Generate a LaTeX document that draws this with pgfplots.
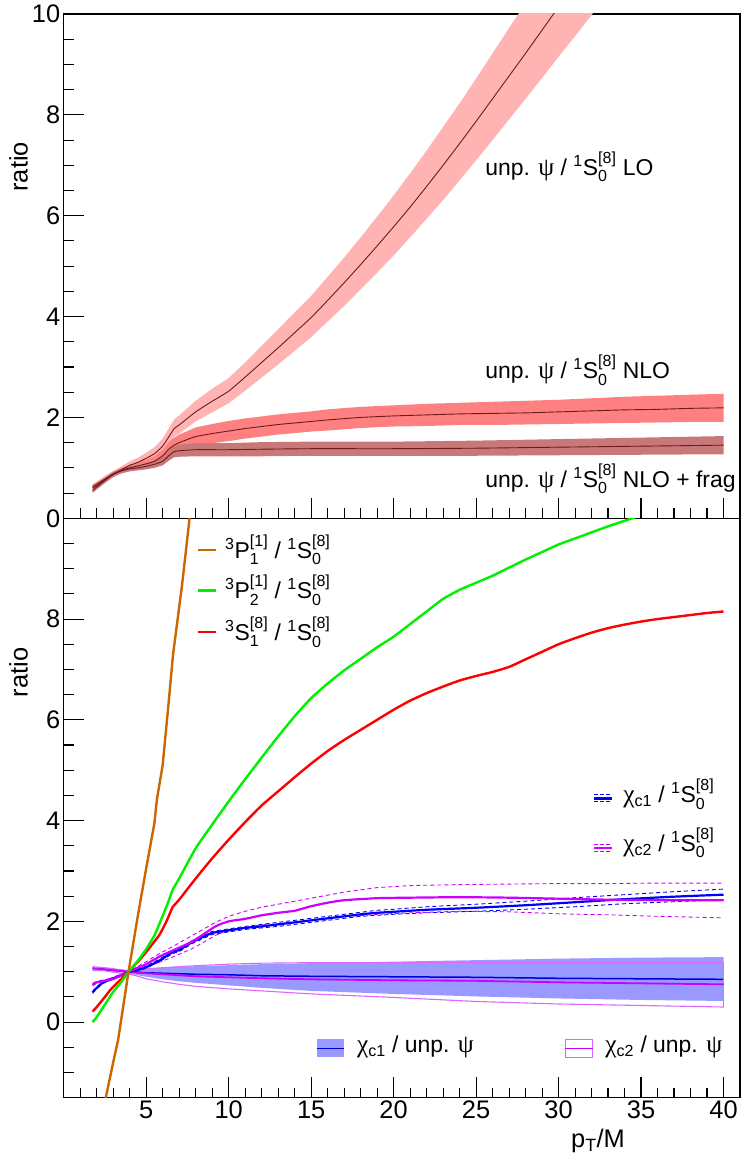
\documentclass[border=0pt]{standalone}
\usepackage{fontspec}
\setmainfont{Liberation Sans}
\newfontfamily\grk{Liberation Serif}
\usepackage{amsmath}
\usepackage{pgfplots}
\usepackage{pgfplotstable}
\pgfplotsset{compat=1.18}
\usepgfplotslibrary{fillbetween}

\definecolor{lobd}{HTML}{FFB3B3}
\definecolor{nlobd}{HTML}{FF8080}
\definecolor{fragbd}{HTML}{C87878}
\definecolor{cline}{HTML}{6E1A1A}
\definecolor{brn}{HTML}{CC6600}
\definecolor{grn}{HTML}{00F000}
\definecolor{rd}{HTML}{FF0000}
\definecolor{blu}{HTML}{0000FF}
\definecolor{mag}{HTML}{CC00FF}
\definecolor{magl}{HTML}{DD66FF}
\definecolor{blubd}{HTML}{9999FF}

\newcommand{\Soct}{$^{\text{1}}$S$^{\text{[8]}}_{\text{0}}$}
\newcommand{\psiu}{{\grk\fontsize{25.5}{27}\selectfont ψ}}
\newcommand{\chic}[1]{{\grk\fontsize{25.5}{27}\selectfont χ}$_{\text{c#1}}$}

% top panel: x, central, lower, upper
\pgfplotstableread{
x c lo hi
1.75 0.63 0.58 0.68
2 0.68 0.63 0.73
2.5 0.78 0.73 0.84
3 0.88 0.82 0.94
3.5 0.96 0.90 1.03
4 1.05 0.98 1.13
4.5 1.11 1.03 1.20
5 1.19 1.10 1.30
5.5 1.28 1.17 1.41
6 1.43 1.31 1.58
6.4 1.63 1.48 1.80
6.7 1.78 1.62 1.96
7 1.85 1.68 2.04
8 2.11 1.92 2.33
9 2.32 2.10 2.57
10 2.52 2.28 2.78
11 2.80 2.53 3.09
12 3.09 2.79 3.42
13 3.38 3.05 3.75
14 3.68 3.32 4.08
15 3.98 3.59 4.41
16 4.32 3.90 4.79
17 4.67 4.21 5.17
18 5.03 4.54 5.57
19 5.40 4.87 5.98
20 5.78 5.21 6.40
21 6.17 5.57 6.84
22 6.58 5.94 7.29
23 7.00 6.31 7.76
24 7.43 6.70 8.23
25 7.87 7.10 8.72
26 8.32 7.50 9.22
27 8.77 7.91 9.72
28 9.22 8.32 10.22
29 9.68 8.73 10.73
30 10.14 9.15 11.24
31 10.60 9.56 11.74
32 11.06 9.98 12.25
33 11.52 10.39 12.76
}\LOtab

\pgfplotstableread{
x c lo hi
1.75 0.60 0.55 0.65
2 0.65 0.60 0.70
2.5 0.76 0.71 0.81
3 0.87 0.82 0.92
3.5 0.95 0.90 1.00
4 1.00 0.94 1.06
4.5 1.04 0.97 1.11
5 1.08 1.00 1.16
5.5 1.13 1.04 1.23
6 1.24 1.13 1.36
6.4 1.38 1.25 1.52
6.7 1.45 1.31 1.60
7 1.50 1.35 1.66
8 1.62 1.45 1.80
9 1.68 1.49 1.87
10 1.73 1.53 1.93
11 1.78 1.58 1.98
12 1.82 1.62 2.02
13 1.86 1.66 2.06
14 1.89 1.69 2.09
15 1.92 1.72 2.12
16 1.95 1.74 2.16
18 2.00 1.79 2.21
20 2.03 1.82 2.24
22 2.05 1.83 2.27
24 2.07 1.85 2.29
26 2.08 1.85 2.31
28 2.09 1.86 2.33
30 2.11 1.87 2.35
32 2.13 1.88 2.38
34 2.15 1.89 2.41
36 2.16 1.90 2.43
38 2.18 1.91 2.45
40 2.19 1.91 2.47
}\NLOtab

\pgfplotstableread{
x c lo hi
1.75 0.55 0.50 0.60
2 0.62 0.57 0.67
2.5 0.75 0.70 0.80
3 0.87 0.82 0.92
3.5 0.94 0.89 0.99
4 0.98 0.93 1.03
4.5 1.00 0.95 1.05
5 1.03 0.97 1.09
5.5 1.07 1.00 1.14
6 1.13 1.05 1.21
6.4 1.25 1.15 1.35
6.7 1.32 1.21 1.43
7 1.34 1.22 1.46
8 1.36 1.23 1.49
10 1.36 1.23 1.49
12 1.37 1.23 1.51
15 1.38 1.24 1.52
20 1.38 1.24 1.52
25 1.39 1.24 1.54
30 1.41 1.25 1.57
35 1.43 1.26 1.60
40 1.45 1.27 1.63
}\FRAGtab

% bottom panel
\pgfplotstableread{
x c lo hi
1.75 1.05 1.02 1.08
2.5 1.04 1.01 1.07
3 1.03 1.00 1.06
3.5 1.015 0.99 1.04
3.93 1.00 0.97 1.03
4.5 0.99 0.93 1.05
5 0.98 0.90 1.06
6 0.97 0.85 1.08
7 0.96 0.81 1.10
8 0.95 0.78 1.11
10 0.94 0.73 1.13
12 0.92 0.68 1.15
15 0.91 0.62 1.17
20 0.90 0.56 1.20
25 0.89 0.51 1.23
30 0.87 0.47 1.26
35 0.86 0.44 1.28
40 0.85 0.42 1.29
}\CIUtab

\pgfplotstableread{
x c lo hi
1.75 1.07 1.05 1.10
2.5 1.05 1.02 1.08
3 1.03 0.99 1.06
3.5 1.015 0.97 1.04
3.93 1.00 0.96 1.02
4.5 0.98 0.91 1.04
5 0.97 0.86 1.06
6 0.95 0.80 1.08
7 0.93 0.75 1.10
8 0.91 0.71 1.12
10 0.89 0.66 1.15
12 0.87 0.62 1.17
15 0.85 0.56 1.18
20 0.83 0.49 1.18
25 0.82 0.41 1.18
30 0.79 0.36 1.18
35 0.77 0.33 1.18
40 0.75 0.30 1.18
}\CIIUtab

\pgfplotstableread{
x c lo hi
1.75 0.59 0.57 0.61
2 0.68 0.66 0.70
2.4 0.79 0.77 0.81
3 0.87 0.85 0.89
3.5 0.93 0.91 0.95
3.93 1.00 0.98 1.02
4.5 1.04 1.02 1.06
5 1.09 1.07 1.11
5.8 1.22 1.20 1.25
6.6 1.39 1.36 1.42
7 1.43 1.40 1.46
7.8 1.59 1.56 1.62
9 1.77 1.74 1.80
10 1.82 1.79 1.85
11 1.87 1.84 1.90
12 1.90 1.87 1.94
13 1.94 1.90 1.98
14 1.98 1.94 2.02
15 2.02 1.98 2.06
16 2.06 2.02 2.10
17 2.10 2.06 2.14
18 2.14 2.10 2.18
19 2.17 2.12 2.22
20 2.19 2.14 2.24
22 2.23 2.17 2.29
25 2.27 2.20 2.34
28 2.32 2.24 2.40
31 2.38 2.29 2.47
34 2.44 2.35 2.53
37 2.49 2.39 2.59
40 2.53 2.43 2.64
}\CIStab

\pgfplotstableread{
x c lo hi
1.75 0.74 0.72 0.77
2 0.79 0.77 0.81
3 0.86 0.84 0.88
3.93 1.00 0.99 1.01
4.5 1.08 1.05 1.11
5 1.15 1.10 1.20
5.8 1.30 1.19 1.36
6.6 1.42 1.29 1.50
7.8 1.60 1.46 1.72
9.2 1.90 1.72 1.98
10 2.00 1.84 2.10
11 2.05 1.88 2.20
12 2.12 1.93 2.28
13 2.17 1.95 2.34
14 2.21 1.98 2.40
15 2.30 2.02 2.46
16 2.37 2.06 2.52
17 2.42 2.09 2.58
19 2.46 2.14 2.67
21 2.47 2.17 2.71
24 2.48 2.20 2.73
27 2.47 2.19 2.74
30 2.45 2.15 2.75
33 2.43 2.13 2.75
36 2.42 2.10 2.76
40 2.42 2.07 2.76
}\CIIStab

\pgfplotsset{
  myax/.style={
    scale only axis, width=676.3bp, xmin=0, xmax=41,
    tick align=inside, tick pos=left,
    xtick={5,10,...,40}, minor xtick={1,...,40},
    major tick length=20.7bp, minor tick length=10bp,
    every tick/.style={black, line width=1.1bp},
    axis line style={line width=1.3bp},
    tick label style={font=\fontsize{25.5}{28}\selectfont},
    /pgf/number format/assume math mode=true,
    label style={font=\fontsize{25.5}{28}\selectfont},
  },
}
\tikzset{tx/.style={anchor=base west, inner sep=0pt, font=\fontsize{23}{27}\selectfont}}

\begin{document}
\begin{tikzpicture}
\path (0,0) rectangle (747bp,1171bp);

% ---------------- top panel ----------------
\begin{axis}[myax, at={(63.7bp,652.7bp)}, anchor=south west, height=504.3bp,
  ymin=0, ymax=10, ytick={0,2,...,10}, minor ytick={0.5,1,...,9.5},
  xticklabels={},
  ylabel={ratio}, ylabel style={at={(axis description cs:-0.0668,0.697)}, anchor=center}]
  \addplot[name path=loH, draw=none, forget plot] table[x=x,y=hi]{\LOtab};
  \addplot[name path=loL, draw=none, forget plot] table[x=x,y=lo]{\LOtab};
  \addplot[lobd, draw=none] fill between[of=loH and loL];
  \addplot[name path=nlH, draw=none, forget plot] table[x=x,y=hi]{\NLOtab};
  \addplot[name path=nlL, draw=none, forget plot] table[x=x,y=lo]{\NLOtab};
  \addplot[nlobd, draw=none] fill between[of=nlH and nlL];
  \addplot[name path=frH, draw=none, forget plot] table[x=x,y=hi]{\FRAGtab};
  \addplot[name path=frL, draw=none, forget plot] table[x=x,y=lo]{\FRAGtab};
  \addplot[fragbd, draw=none] fill between[of=frH and frL];
  \addplot[cline, line width=0.9bp, smooth, tension=0.3] table[x=x,y=c]{\LOtab};
  \addplot[cline, line width=0.9bp, smooth, tension=0.3] table[x=x,y=c]{\NLOtab};
  \addplot[cline, line width=0.9bp, smooth, tension=0.3] table[x=x,y=c]{\FRAGtab};
  \node[tx] at (axis cs:25.55,6.8) {unp. \psiu{} / \Soct{} LO};
  \node[tx] at (axis cs:25.55,2.77) {unp. \psiu{} / \Soct{} NLO};
  \node[tx] at (axis cs:25.55,0.615) {unp. \psiu{} / \Soct{} NLO + frag};
\end{axis}

% ---------------- bottom panel ----------------
\begin{axis}[myax, at={(63.7bp,73.3bp)}, anchor=south west, height=579.4bp,
  ymin=-1.5, ymax=10, ytick={0,2,4,6,8}, minor ytick={-1,-0.5,...,9.5},
  ylabel={ratio}, ylabel style={at={(axis description cs:-0.0668,0.734)}, anchor=center},
  xlabel={p$_{\text{T}}$/M}, xlabel style={at={(axis description cs:0.79,-0.0747)}, anchor=center}]
  % chi_c1 / unp. psi band
  \addplot[name path=auH, draw=none, forget plot] table[x=x,y=hi]{\CIUtab};
  \addplot[name path=auL, draw=none, forget plot] table[x=x,y=lo]{\CIUtab};
  \addplot[blubd, draw=none] fill between[of=auH and auL];
  \addplot[blu!85!black, line width=1.5bp] table[x=x,y=c]{\CIUtab};
  % chi_c2 / unp. psi hollow band
  \addplot[magl, line width=1.1bp] table[x=x,y=hi]{\CIIUtab};
  \addplot[magl, line width=1.1bp] table[x=x,y=lo]{\CIIUtab};
  \addplot[magl, line width=1.1bp] coordinates {(40,0.30) (40,1.18)};
  \addplot[magl, line width=1.1bp] coordinates {(1.75,1.05) (1.75,1.10)};
  \addplot[mag, line width=1.8bp] table[x=x,y=c]{\CIIUtab};
  % chi_c / 1S0
  \addplot[blu, dash pattern=on 4bp off 3bp, line width=0.9bp] table[x=x,y=hi]{\CIStab};
  \addplot[blu, dash pattern=on 4bp off 3bp, line width=0.9bp] table[x=x,y=lo]{\CIStab};
  \addplot[mag, dash pattern=on 4bp off 3bp, line width=0.9bp] table[x=x,y=hi]{\CIIStab};
  \addplot[mag, dash pattern=on 4bp off 3bp, line width=0.9bp] table[x=x,y=lo]{\CIIStab};
  \addplot[blu, line width=2.2bp, smooth, tension=0.3] table[x=x,y=c]{\CIStab};
  \addplot[mag, line width=2.2bp, smooth, tension=0.3] table[x=x,y=c]{\CIIStab};
  % 3S1[8]/1S0[8]
  \addplot[rd, line width=2.4bp, smooth, tension=0.3] coordinates {
    (1.75,0.21) (2,0.30) (2.5,0.50) (2.78,0.62) (3,0.70) (3.5,0.86) (3.93,1.00)
    (4.5,1.20) (5,1.39) (5.5,1.60) (5.8,1.73) (6,1.85) (6.3,2.05) (6.6,2.28)
    (7,2.43) (8,2.85) (9,3.25) (10,3.62) (11,3.97) (12,4.30) (13,4.58) (14,4.86)
    (15,5.13) (16,5.38) (17,5.60) (18,5.80) (19,6.00) (20,6.20) (21,6.38) (22,6.53)
    (23,6.66) (24,6.78) (25,6.87) (26,6.95) (27,7.05) (28,7.20) (29,7.35) (30,7.50)
    (31,7.62) (32,7.73) (33,7.82) (34,7.89) (35,7.95) (36,8.00) (37,8.04) (38,8.08)
    (39,8.12) (40,8.15)};
  % 3P2[1]/1S0[8]
  \addplot[grn, line width=2.4bp, smooth, tension=0.3] coordinates {
    (1.75,0.00) (2,0.10) (2.5,0.35) (2.78,0.49) (3,0.60) (3.5,0.80) (3.93,1.00)
    (4.5,1.22) (5,1.45) (5.5,1.72) (5.8,1.95) (6.3,2.35) (6.6,2.62) (7,2.85)
    (8,3.45) (9,3.92) (10,4.38) (11,4.82) (12,5.25) (13,5.67) (14,6.07) (15,6.43)
    (16,6.72) (17,6.98) (18,7.21) (19,7.44) (20,7.65) (21,7.90) (22,8.15) (23,8.40)
    (24,8.58) (25,8.72) (26,8.86) (27,9.02) (28,9.18) (29,9.33) (30,9.48) (31,9.60)
    (32,9.72) (33,9.84) (34,9.95) (35,10.06) (36,10.18)};
  % 3P1[1]/1S0[8]
  \addplot[brn, line width=2.4bp] coordinates {
    (2.0,-2.35) (2.55,-1.5) (3.0,-0.8) (3.3,-0.35) (3.93,1.0) (4.5,2.12) (5,3.05)
    (5.5,3.95) (5.65,4.42) (6,5.1) (6.37,6.37) (6.63,7.3) (7.17,8.66) (7.63,10.0) (8,10.9)};

  % legend top-left
  \draw[brn, line width=2.4bp] (axis cs:8.16,9.37) -- (axis cs:9.24,9.37);
  \node[tx, yshift=-8.3bp] at (axis cs:9.78,9.37) {$^{\text{3}}$P$^{\text{[1]}}_{\text{1}}$ / \Soct};
  \draw[grn, line width=2.4bp] (axis cs:8.16,8.57) -- (axis cs:9.24,8.57);
  \node[tx, yshift=-8.3bp] at (axis cs:9.78,8.57) {$^{\text{3}}$P$^{\text{[1]}}_{\text{2}}$ / \Soct};
  \draw[rd, line width=2.4bp] (axis cs:8.16,7.74) -- (axis cs:9.24,7.74);
  \node[tx, yshift=-8.3bp] at (axis cs:9.78,7.74) {$^{\text{3}}$S$^{\text{[8]}}_{\text{1}}$ / \Soct};

  % legend right
  \draw[blu, line width=2.2bp] (axis cs:32.16,4.44) -- (axis cs:33.25,4.44);
  \draw[blu, line width=0.9bp, dash pattern=on 4bp off 2bp] (axis cs:32.16,4.51) -- (axis cs:33.25,4.51);
  \draw[blu, line width=0.9bp, dash pattern=on 4bp off 2bp] (axis cs:32.16,4.37) -- (axis cs:33.25,4.37);
  \node[tx] at (axis cs:33.92,4.357) {\chic{1} / \Soct};
  \draw[mag, line width=2.2bp] (axis cs:32.16,3.45) -- (axis cs:33.25,3.45);
  \draw[mag, line width=0.9bp, dash pattern=on 4bp off 2bp] (axis cs:32.16,3.52) -- (axis cs:33.25,3.52);
  \draw[mag, line width=0.9bp, dash pattern=on 4bp off 2bp] (axis cs:32.16,3.38) -- (axis cs:33.25,3.38);
  \node[tx] at (axis cs:33.92,3.39) {\chic{2} / \Soct};

  % legend bottom
  \fill[blubd] (axis cs:15.35,-0.70) rectangle (axis cs:17.0,-0.34);
  \draw[blu!85!black, line width=1.5bp] (axis cs:15.35,-0.52) -- (axis cs:17.0,-0.52);
  \node[tx] at (axis cs:17.77,-0.61) {\chic{1} / unp. \psiu};
  \draw[magl, line width=1.1bp] (axis cs:30.4,-0.70) rectangle (axis cs:32.08,-0.34);
  \draw[mag, line width=1.5bp] (axis cs:30.4,-0.52) -- (axis cs:32.08,-0.52);
  \node[tx] at (axis cs:32.83,-0.61) {\chic{2} / unp. \psiu};
\end{axis}
\end{tikzpicture}
\end{document}
